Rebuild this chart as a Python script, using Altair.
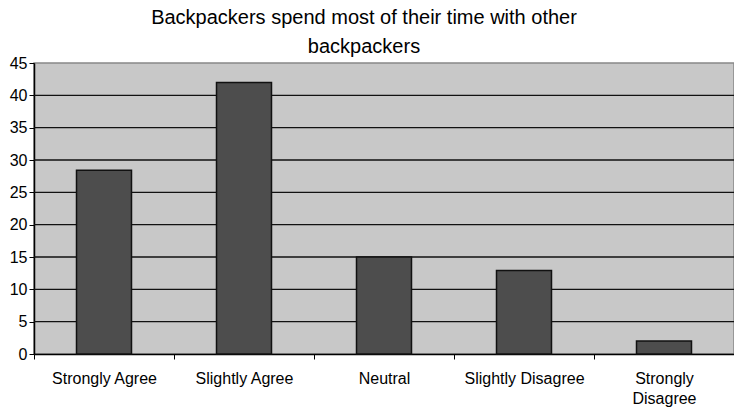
import altair as alt
import pandas as pd

# Survey responses (percent of backpackers)
categories = ["Strongly Agree", "Slightly Agree", "Neutral", "Slightly Disagree", "Strongly Disagree"]
percents = [28.4, 42.0, 15.0, 12.9, 2.0]
y_ticks = [0, 5, 10, 15, 20, 25, 30, 35, 40, 45]
grid_values = [5, 10, 15, 20, 25, 30, 35, 40]

bars_df = pd.DataFrame({"response": categories, "percent": percents})
grid_df = pd.DataFrame({"g": grid_values})

FONT = "Liberation Sans"

y_scale = alt.Scale(domain=[0, 45], nice=False, zero=True)
x_scale = alt.Scale(domain=categories, paddingInner=0, paddingOuter=0)

y_axis = alt.Axis(
    values=y_ticks,
    grid=False,
    tickSize=5,
    tickColor="#000000",
    domainColor="#000000",
    domainWidth=1.5,
    labelFont=FONT,
    labelFontSize=16,
    labelColor="#000000",
    labelPadding=2,
)

# horizontal gridlines (the top edge is drawn by the plot frame)
grid = alt.Chart(grid_df).mark_rule(color="#111111", strokeWidth=1.4).encode(
    y=alt.Y("g:Q", scale=y_scale, title=None, axis=y_axis)
)

bars = alt.Chart(bars_df).mark_bar(
    size=55, color="#4d4d4d", stroke="#111111", strokeWidth=1.5
).encode(
    x=alt.X(
        "response:N",
        scale=x_scale,
        sort=categories,
        title=None,
        axis=alt.Axis(
            labelAngle=0,
            tickBand="extent",
            tickSize=5,
            tickColor="#000000",
            domainColor="#000000",
            domainWidth=1.5,
            labelFont=FONT,
            labelFontSize=16,
            labelColor="#000000",
            labelPadding=11,
            labelLineHeight=20,
            labelExpr="datum.value == 'Strongly Disagree' ? ['Strongly', 'Disagree'] : datum.value",
        ),
    ),
    y=alt.Y("percent:Q", scale=y_scale, title=None, axis=y_axis),
)

chart = (
    alt.layer(grid, bars)
    .properties(
        width=700,
        height=291,
        autosize=alt.AutoSizeParams(type="none"),
        padding={"left": 34, "top": 63, "right": 0, "bottom": 57},
        background="#ffffff",
        title=alt.TitleParams(
            text=["Backpackers spend most of their time with other", "backpackers"],
            font=FONT,
            fontSize=20,
            fontWeight="normal",
            color="#000000",
            anchor="middle",
            dx=-20,
            offset=-2,
            lineHeight=29,
        ),
    )
    .configure_view(fill="#c8c8c8", stroke="#888888", strokeWidth=1.5)
)

chart.save("out.html", embed_options={"renderer": "svg", "actions": False})
